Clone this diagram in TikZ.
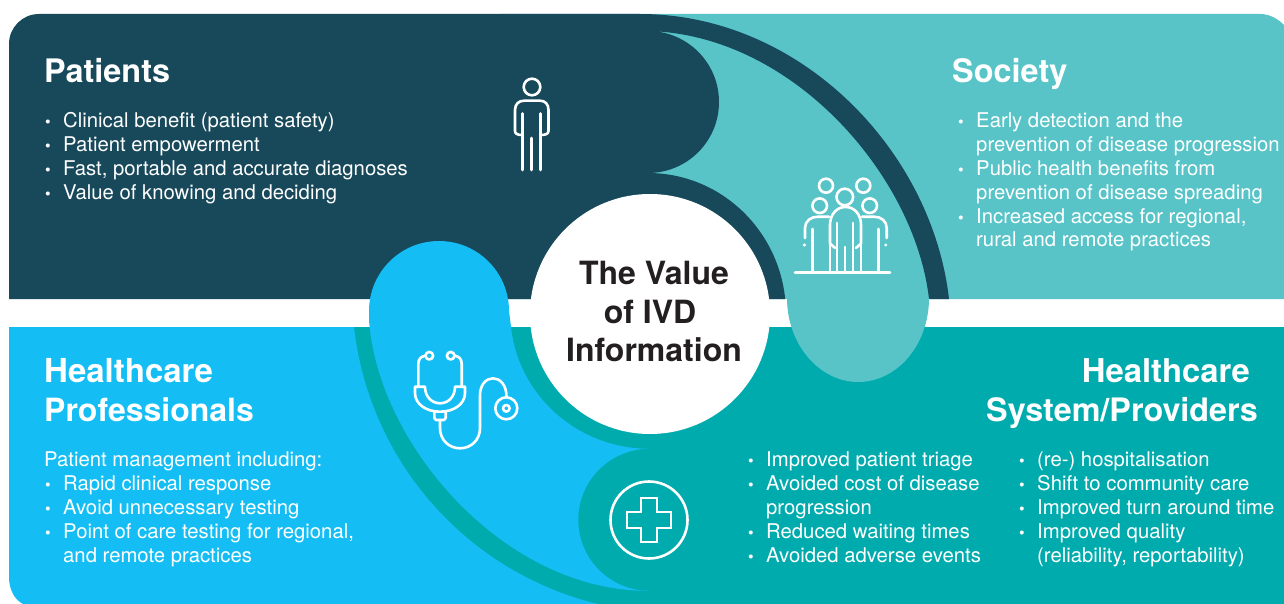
\documentclass[tikz,border=0pt]{standalone}
\usepackage{fontspec}
\setmainfont{TeX Gyre Heros}
\definecolor{darkteal}{HTML}{17495B}
\definecolor{lightteal}{HTML}{58C4C8}
\definecolor{skyblue}{HTML}{14BEF5}
\definecolor{midteal}{HTML}{00ABAE}
\definecolor{inkblack}{HTML}{231F20}
\tikzset{
  bodytext/.style={anchor=base west,inner sep=0pt,text=white,font=\fontsize{20.3}{24}\selectfont},
  dotmark/.style={anchor=base west,inner sep=0pt,text=white,font=\fontsize{16}{18}\selectfont},
  headw/.style={anchor=base west,inner sep=0pt,text=white,font=\bfseries\fontsize{32.4}{36}\selectfont},
  heade/.style={anchor=base east,inner sep=0pt,text=white,font=\bfseries\fontsize{32.8}{36}\selectfont},
  centertext/.style={anchor=base,inner sep=0pt,text=inkblack,font=\bfseries\fontsize{32}{36}\selectfont},
  iconline/.style={draw=white,line width=2.6pt,line cap=round,line join=round},
}
\newcommand{\itemrow}[4]{%
  \node[dotmark] (#1b) at (#2-18,#3) {\textbullet};
  \node[bodytext] (#1) at (#2,#3) {#4};}
\newcommand{\plainrow}[4]{\node[bodytext] (#1) at (#2,#3) {#4};}
\begin{document}
\begin{tikzpicture}[x=1pt,y=-1pt]
\useasboundingbox (0,0) rectangle (1284,604);
\fill[white] (0,0) rectangle (1284,604);
% backgrounds
\fill[lightteal] (500,14) -- (1260,14) .. controls (1270,14) and (1278,19) .. (1284,25) -- (1284,299) -- (500,299) -- cycle;
\fill[midteal] (300,327) rectangle (1284,604);
% dark panel
\fill[darkteal] (9,299) -- (9,44) arc[start angle=180,end angle=270,radius=30] -- (640,14)
  .. controls (800,14) and (932,150) .. (949,299) -- (929,299)
  .. controls (915,175) and (790,31) .. (643,31) -- (648,31)
  arc[start angle=-90,end angle=90,radius=71]
  arc[start angle=-90,end angle=-6.1,x radius=138,y radius=141] -- cycle;
% light teal lobe
\fill[lightteal] (787,298) .. controls (787,345) and (820,382) .. (858,382) .. controls (897,382) and (929,345) .. (929,298) -- cycle;
% sky panel
\fill[skyblue] (9,327) -- (354,327)
  arc[start angle=173.6,end angle=100,radius=322]
  -- (618,604) -- (23,604) .. controls (15,600) and (9,590) .. (9,577) -- cycle;
% sky lobe
\fill[skyblue] (369,311) arc[start angle=180,end angle=360,radius=70]
  -- (511,327) arc[start angle=174,end angle=90,x radius=139,y radius=136]
  arc[start angle=-90,end angle=-270,radius=71]
  .. controls (505,592) and (378,445) .. (369,320) -- cycle;
% centre
\node[circle,fill=white,minimum size=240pt,inner sep=0pt] (hub) at (650,314) {};
\node[centertext] (hub1) at (654,284) {The Value};
\node[centertext] (hub2) at (650,323) {of IVD};
\node[centertext] (hub3) at (654,361) {Information};
% patients
\node[headw] (patients) at (44,83) {Patients};
\itemrow{p1}{63}{128}{Clinical benefit (patient safety)}
\itemrow{p2}{63}{152}{Patient empowerment}
\itemrow{p3}{63}{176}{Fast, portable and accurate diagnoses}
\itemrow{p4}{63}{200}{Value of knowing and deciding}
% society
\node[headw] (society) at (952,83) {Society};
\itemrow{s1}{976}{128}{Early detection and the}
\plainrow{s2}{976}{152}{prevention of disease progression}
\itemrow{s3}{976}{176}{Public health benefits from}
\plainrow{s4}{976}{200}{prevention of disease spreading}
\itemrow{s5}{976}{223}{Increased access for regional,}
\plainrow{s6}{976}{246}{rural and remote practices}
% healthcare professionals
\node[headw,font=\bfseries\fontsize{33}{36}\selectfont] (hp1) at (44,382) {Healthcare};
\node[headw,font=\bfseries\fontsize{32}{36}\selectfont] (hp2) at (44,421) {Professionals};
\plainrow{h0}{44}{466}{Patient management including:}
\itemrow{h1}{63}{490}{Rapid clinical response}
\itemrow{h2}{63}{514}{Avoid unnecessary testing}
\itemrow{h3}{63}{538}{Point of care testing for regional,}
\plainrow{h4}{63}{562}{and remote practices}
% system
\node[heade] (sys1) at (1250,382) {Healthcare};
\node[heade,font=\bfseries\fontsize{32.3}{36}\selectfont] (sys2) at (1258,421) {System/Providers};
\itemrow{a1}{766}{466}{Improved patient triage}
\itemrow{a2}{766}{490}{Avoided cost of disease}
\plainrow{a3}{766}{514}{progression}
\itemrow{a4}{766}{538}{Reduced waiting times}
\itemrow{a5}{766}{562}{Avoided adverse events}
\itemrow{b1}{1037}{466}{(re-) hospitalisation}
\itemrow{b2}{1037}{490}{Shift to community care}
\itemrow{b3}{1037}{514}{Improved turn around time}
\itemrow{b4}{1037}{538}{Improved quality}
\plainrow{b5}{1037}{562}{(reliability, reportability)}
% person icon
\draw[iconline] (532,87) circle[radius=8.3];
\draw[iconline] (522,135) .. controls (518,135) and (515,134) .. (515,131) -- (515,110)
  .. controls (515,104) and (519,100.7) .. (524,100.7) -- (540,100.7)
  .. controls (545,100.7) and (548.5,104) .. (548.5,110) -- (548.5,131)
  .. controls (548.5,134) and (545,135) .. (541,135);
\draw[iconline] (522.3,113.5) -- (522.3,170);
\draw[iconline] (540.7,113.5) -- (540.7,170);
\draw[iconline] (531.7,138) -- (531.7,170);
% group icon
\draw[iconline] (795,272.7) -- (890,272.7);
\draw[iconline] (826,185.7) circle[radius=7];
\draw[iconline] (863.3,185.7) circle[radius=7];
\draw[iconline] (844.8,197) circle[radius=8.3];
\draw[iconline] (819.7,205.7) circle[radius=7.3];
\draw[iconline] (869.7,205.7) circle[radius=7.3];
\draw[iconline] (805,238) -- (805,228) .. controls (805,221) and (811,216.7) .. (818,216.7) -- (829,216.7);
\draw[iconline] (886.7,238) -- (886.7,228) .. controls (886.7,221) and (881,216.7) .. (874,216.7) -- (862,216.7);
\fill[white] (804.3,245) circle[radius=1.7];
\fill[white] (885.7,245) circle[radius=1.7];
\draw[iconline] (812.3,229) -- (812.3,272);
\draw[iconline] (878.3,229) -- (878.3,272);
\draw[iconline] (835,248) -- (830,243.5) -- (830,225) .. controls (830,214) and (837,207) .. (845.5,207)
  .. controls (854,207) and (861,214) .. (861,225) -- (861,243.5) -- (856,248);
\draw[iconline] (830,243.5) -- (830,272);
\draw[iconline] (861,243.5) -- (861,272);
\draw[iconline] (837,223) -- (837,272);
\draw[iconline] (845,247) -- (845,272);
\draw[iconline] (853,223) -- (853,272);
% stethoscope icon
\draw[iconline] (429.3,355.7) circle[radius=3.8];
\draw[iconline] (450.7,355.7) circle[radius=3.8];
\draw[iconline] (425,355.7) .. controls (421,356.5) and (418.3,359) .. (418.3,364) -- (418.3,386.7);
\draw[iconline] (455,355.7) .. controls (459,356.5) and (461.7,359) .. (461.7,364) -- (461.7,386.7);
\draw[iconline] (415,386.7) -- (425,386.7) .. controls (425,397) and (432,403.3) .. (440,403.3)
  .. controls (448,403.3) and (455,397) .. (455,386.7) -- (465,386.7)
  -- (465,393) .. controls (465,404) and (454,411.7) .. (440,411.7)
  .. controls (426,411.7) and (415,404) .. (415,393) -- cycle;
\draw[iconline] (434.3,411.7) -- (434.3,418) -- (436,420) -- (444,420) -- (445.7,418) -- (445.7,411.7);
\draw[iconline] (440,420) -- (440,428) .. controls (440,440) and (449,448.3) .. (460,448.3)
  .. controls (471,448.3) and (480,440) .. (480,428) -- (480,395)
  .. controls (480,385) and (486,378.3) .. (493,378.3) .. controls (500,378.3) and (506.5,385) .. (506.5,396.5);
\draw[iconline] (506.3,408.3) circle[radius=11];
\draw[iconline] (506.3,408.3) circle[radius=3.3];
% cross icon
\draw[iconline] (649,520) circle[radius=38.5];
\draw[iconline,line cap=butt,line join=miter] (641,498) -- (657,498) -- (657,512) -- (671,512) -- (671,528) -- (657,528) -- (657,542) -- (641,542) -- (641,528) -- (627,528) -- (627,512) -- (641,512) -- cycle;
\end{tikzpicture}
\end{document}
